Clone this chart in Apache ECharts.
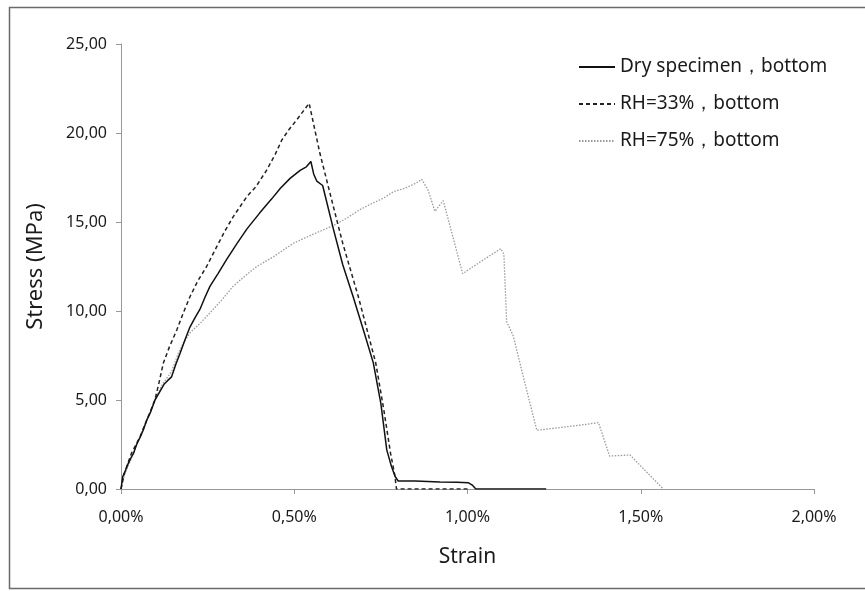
<!DOCTYPE html>
<html>
<head>
<meta charset="utf-8">
<script src="https://cdn.jsdelivr.net/npm/echarts@6/dist/echarts.min.js"></script>
<style>
html,body{margin:0;padding:0;background:#fff;}
#c{width:865px;height:591px;}
</style>
</head>
<body>
<div id="c"></div>
<script>
const seriesNames = ['Dry specimen，bottom', 'RH=33%，bottom', 'RH=75%，bottom'];
const xTicks = [0, 0.5, 1.0, 1.5, 2.0];
const yTicks = [0, 5, 10, 15, 20, 25];

const dryStrain = [0, 0.005, 0.012, 0.02, 0.03, 0.036, 0.045, 0.055, 0.064, 0.075, 0.085, 0.098, 0.11, 0.125, 0.135, 0.146, 0.158, 0.17, 0.185, 0.199, 0.213, 0.228, 0.243, 0.257, 0.28, 0.305, 0.335, 0.363, 0.40, 0.435, 0.46, 0.488, 0.517, 0.535, 0.548, 0.556, 0.565, 0.582, 0.613, 0.64, 0.67, 0.70, 0.728, 0.75, 0.767, 0.78, 0.791, 0.80, 0.85, 0.92, 0.97, 1.003, 1.015, 1.024, 1.1, 1.227];
const dryStress = [0, 0.7, 1.0, 1.4, 1.8, 2.0, 2.5, 2.9, 3.3, 3.9, 4.3, 5.0, 5.4, 5.9, 6.1, 6.3, 7.0, 7.6, 8.4, 9.1, 9.6, 10.1, 10.8, 11.4, 12.1, 12.9, 13.8, 14.6, 15.5, 16.3, 16.9, 17.45, 17.9, 18.1, 18.4, 17.7, 17.3, 17.05, 14.6, 12.6, 10.8, 8.9, 7.1, 4.8, 2.2, 1.3, 0.7, 0.45, 0.45, 0.4, 0.38, 0.35, 0.2, 0, 0, 0];

const rh33Strain = [0, 0.01, 0.03, 0.055, 0.075, 0.098, 0.11, 0.122, 0.14, 0.161, 0.18, 0.199, 0.222, 0.247, 0.276, 0.30, 0.324, 0.363, 0.39, 0.42, 0.445, 0.464, 0.485, 0.507, 0.525, 0.543, 0.574, 0.613, 0.64, 0.685, 0.735, 0.758, 0.778, 0.79, 0.795, 0.9, 1.0];
const rh33Stress = [0, 0.9, 2.0, 2.94, 3.9, 5.0, 6.0, 7.06, 8.0, 8.93, 9.9, 10.8, 11.7, 12.5, 13.6, 14.5, 15.3, 16.42, 17.0, 17.9, 18.8, 19.6, 20.2, 20.73, 21.2, 21.67, 18.86, 15.86, 13.8, 10.8, 7.1, 4.5, 2.0, 0.8, 0, 0, 0];

const rh75Strain = [0, 0.01, 0.036, 0.06, 0.098, 0.12, 0.146, 0.165, 0.18, 0.2, 0.228, 0.257, 0.29, 0.324, 0.36, 0.392, 0.44, 0.497, 0.53, 0.565, 0.613, 0.65, 0.69, 0.72, 0.757, 0.786, 0.82, 0.853, 0.868, 0.886, 0.906, 0.93, 0.986, 1.04, 1.096, 1.105, 1.113, 1.132, 1.165, 1.20, 1.267, 1.33, 1.378, 1.41, 1.469, 1.565];
const rh75Stress = [0, 0.8, 2.0, 3.2, 5.0, 5.9, 6.6, 7.6, 8.2, 8.8, 9.3, 9.9, 10.6, 11.4, 12.0, 12.5, 13.05, 13.8, 14.1, 14.4, 14.8, 15.2, 15.7, 16.0, 16.33, 16.7, 16.9, 17.2, 17.4, 16.8, 15.6, 16.2, 12.1, 12.8, 13.5, 13.2, 9.4, 8.6, 6.0, 3.3, 3.45, 3.6, 3.73, 1.85, 1.91, 0];

function pairs(xs, ys) { return xs.map((x, i) => [x, ys[i]]); }

const chart = echarts.init(document.getElementById('c'));
const FONT = "'Noto Sans', 'Open Sans', sans-serif";
chart.setOption({
  animation: false,
  backgroundColor: '#fff',
  graphic: [{
    type: 'rect',
    shape: { x: 9.5, y: 7.5, width: 880, height: 581 },
    style: { fill: 'none', stroke: '#6a6a6a', lineWidth: 1.5 },
    silent: true
  }],
  grid: { left: 121, top: 44, right: 51, bottom: 102 },
  legend: {
    orient: 'vertical',
    left: 573,
    top: 52,
    itemWidth: 36,
    itemHeight: 14,
    itemGap: 17,
    data: seriesNames,
    itemStyle: { opacity: 0 },
    textStyle: { fontFamily: FONT, fontSize: 19, color: '#1a1a1a', lineHeight: 20 }
  },
  xAxis: {
    type: 'value',
    min: xTicks[0],
    max: xTicks[xTicks.length - 1],
    interval: 0.5,
    name: 'Strain',
    nameLocation: 'middle',
    nameGap: 58,
    nameTextStyle: { fontFamily: FONT, fontSize: 21, color: '#1a1a1a' },
    axisLine: { lineStyle: { color: '#999', width: 1 } },
    axisTick: { show: true, length: 5, lineStyle: { color: '#999' } },
    splitLine: { show: false },
    axisLabel: {
      fontFamily: FONT, fontSize: 16, color: '#1a1a1a', margin: 20,
      formatter: v => v.toFixed(2).replace('.', ',') + '%'
    }
  },
  yAxis: {
    type: 'value',
    min: yTicks[0],
    max: yTicks[yTicks.length - 1],
    interval: 5,
    name: 'Stress (MPa)',
    nameLocation: 'middle',
    nameGap: 74,
    nameRotate: 90,
    nameTextStyle: { fontFamily: FONT, fontSize: 22, color: '#1a1a1a' },
    axisLine: { show: true, lineStyle: { color: '#999', width: 1 } },
    axisTick: { show: true, length: 5, lineStyle: { color: '#999' } },
    splitLine: { show: false },
    axisLabel: {
      fontFamily: FONT, fontSize: 16, color: '#1a1a1a', margin: 14,
      formatter: v => v.toFixed(2).replace('.', ',')
    }
  },
  series: [
    {
      name: seriesNames[0], type: 'line', symbol: 'none', data: pairs(dryStrain, dryStress),
      lineStyle: { color: '#111', width: 1.5, type: 'solid' }, itemStyle: { color: '#111' }, z: 3
    },
    {
      name: seriesNames[1], type: 'line', symbol: 'none', data: pairs(rh33Strain, rh33Stress),
      lineStyle: { color: '#222', width: 1.5, type: [4, 3] }, itemStyle: { color: '#222' }, z: 2
    },
    {
      name: seriesNames[2], type: 'line', symbol: 'none', data: pairs(rh75Strain, rh75Stress),
      lineStyle: { color: '#9a9a9a', width: 1.3, type: [1.5, 1.5] }, itemStyle: { color: '#9a9a9a' }, z: 1
    }
  ]
});
</script>
</body>
</html>
